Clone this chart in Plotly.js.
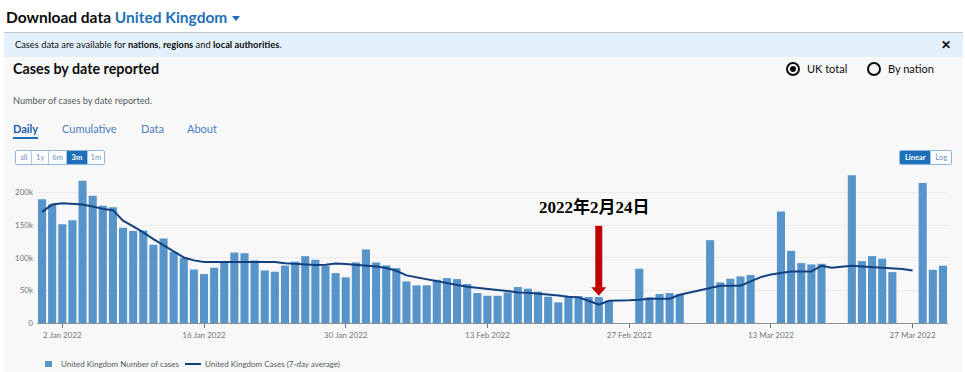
<!DOCTYPE html>
<html>
<head>
<meta charset="utf-8">
<script src="https://cdn.plot.ly/plotly-3.0.1.min.js"></script>
<style>
  body{margin:0;width:965px;height:372px;overflow:hidden;background:#fff;font-family:Lato,"Noto Sans",sans-serif;position:relative;color:#0b0c0c;}
  .abs{position:absolute;white-space:nowrap;}
  #card{left:4px;top:32px;width:959px;height:339px;background:#f8f8f8;border-top:1px solid #c4c6c8;}
  #info{left:4px;top:33px;width:959px;height:24px;background:#e2f1fb;}
  #hdr{left:6px;top:8px;font-size:15.5px;line-height:18px;font-weight:700;}
  #hdr span{color:#1d70b8;}
  #tri{left:232px;top:16px;width:0;height:0;border-left:4px solid transparent;border-right:4px solid transparent;border-top:5px solid #1d70b8;}
  #infotxt{left:15px;top:39px;font-size:9.3px;line-height:12px;color:#0b0c0c;}
  #close{left:941px;top:38px;font-size:12px;line-height:14px;font-weight:700;}
  #ttl{left:13px;top:61px;font-size:14.3px;line-height:16px;font-weight:700;}
  .radio{width:10px;height:10px;border:2px solid #0b0c0c;border-radius:50%;}
  .dot{width:6px;height:6px;background:#0b0c0c;border-radius:50%;}
  .rlab{font-size:11px;line-height:14px;top:62px;}
  #sub{left:13px;top:95px;font-size:9.2px;line-height:12px;color:#505a5f;}
  .tab{top:122px;font-size:11px;line-height:13px;color:#4a80c0;}
  #ul{left:13px;top:137px;width:25px;height:2px;background:#1d70b8;}
  .grp{top:150px;height:13px;border:1px solid #8fb7de;border-radius:2px;display:flex;background:#fff;overflow:hidden;}
  .grp div{font-size:7.5px;line-height:13px;text-align:center;color:#6f8fba;border-left:1px solid #a9c7e4;}
  .grp div:first-child{border-left:none;}
  .grp .sel{background:#1d70b8;color:#fff;font-weight:700;}
  .leg{top:358px;font-size:8px;line-height:12px;color:#505a5f;}
  #chart{position:absolute;left:0;top:0;width:965px;height:372px;}
</style>
</head>
<body>
<div class="abs" id="card"></div>
<div class="abs" id="info"></div>
<div class="abs" id="hdr">Download data <span>United Kingdom</span></div>
<div class="abs" id="tri"></div>
<div class="abs" id="infotxt">Cases data are available for <b>nations</b>, <b>regions</b> and <b>local authorities</b>.</div>
<div class="abs" id="close">✕</div>
<div class="abs" id="ttl">Cases by date reported</div>
<div class="abs radio" style="left:786px;top:62px;"></div>
<div class="abs dot" style="left:790px;top:66px;"></div>
<div class="abs rlab" style="left:807px;">UK total</div>
<div class="abs radio" style="left:867px;top:62px;"></div>
<div class="abs rlab" style="left:888px;">By nation</div>
<div class="abs" id="sub">Number of cases by date reported.</div>
<div class="abs tab" style="left:13px;color:#1d5fa8;font-weight:700;">Daily</div>
<div class="abs tab" style="left:62px;">Cumulative</div>
<div class="abs tab" style="left:141px;">Data</div>
<div class="abs tab" style="left:187px;">About</div>
<div class="abs" id="ul"></div>
<div class="abs grp" style="left:15px;width:88px;">
  <div style="width:16px">all</div><div style="width:16px">1y</div><div style="width:18px">6m</div><div class="sel" style="width:20px">3m</div><div style="width:17px">1m</div>
</div>
<div class="abs grp" style="left:899px;width:51px;">
  <div class="sel" style="width:31px">Linear</div><div style="width:20px">Log</div>
</div>
<div class="abs" id="legsq" style="left:45px;top:361px;width:7px;height:6px;"></div>
<div class="abs leg" id="leg1" style="left:61px;"></div>
<div class="abs" id="legln" style="left:185px;top:363px;width:16px;height:2px;"></div>
<div class="abs leg" id="leg2" style="left:205px;"></div>
<div id="chart"></div>
<script>
// ---- data ----
const startDate = '2021-12-31';
const cases = [
  189800,182000,151500,157600,218000,195000,179600,177600,146000,141000,
  142000,120000,129600,109000,99500,82000,75000,84700,94000,108000,
  107000,96000,80600,78600,88000,94000,102500,97000,87800,76500,
  70000,92900,112800,92900,88300,84200,63800,57700,57700,66300,
  68900,67300,59700,45900,41800,41800,46900,55100,52600,48000,
  40300,31600,40300,41300,39800,39800,34200,null,null,83200,
  39300,44400,45900,44400,null,null,127000,62200,67900,71400,
  73500,null,null,171000,110700,91800,89800,90800,null,null,
  226500,94900,102600,98500,78000,null,null,214800,81600,87800
];
const avg7 = [
  170400,181600,183700,182700,181600,178600,175000,173000,157000,148000,
  139000,128600,119400,110000,100500,96000,93400,93400,93400,93400,
  94000,94000,94000,93400,91800,90800,89800,88800,89300,91300,
  90300,89300,88300,86700,84200,80100,73000,70000,66300,63300,
  60700,58200,55600,53600,52000,50500,49000,46900,46400,45400,
  43900,42300,40300,39300,34200,28000,34200,34200,34700,35700,
  37200,37200,37200,43400,46900,50000,53600,57100,57100,57100,
  63800,70400,74500,77000,79100,79100,79100,87800,84700,86200,
  87800,86700,85700,85700,84200,82700,80600,null,null,null
];
const xTickVals = ['2022-01-02','2022-01-16','2022-01-30','2022-02-13','2022-02-27','2022-03-13','2022-03-27'];
const xTickText = ['2 Jan 2022','16 Jan 2022','30 Jan 2022','13 Feb 2022','27 Feb 2022','13 Mar 2022','27 Mar 2022'];
const yTickVals = [0,50000,100000,150000,200000];
const yTickText = ['0','50k','100k','150k','200k'];
const seriesNames = ['United Kingdom Number of cases','United Kingdom Cases (7-day average)'];
const markDate = '2022-02-24';
const markLabel = '2022年2月24日';

// ---- build ----
const BAR = '#5694ca', LINE = '#12407f';
const dates = cases.map((_, i) => {
  const d = new Date(startDate + 'T00:00:00Z');
  d.setUTCDate(d.getUTCDate() + i);
  return d.toISOString().slice(0, 10);
});
document.getElementById('legsq').style.background = BAR;
document.getElementById('legln').style.background = LINE;
document.getElementById('leg1').textContent = seriesNames[0];
document.getElementById('leg2').textContent = seriesNames[1];

const tickFont = {family:'Lato, Noto Sans, sans-serif', size:8, color:'#6f777b'};
const traces = [
  {type:'bar', x:dates, y:cases, name:seriesNames[0], marker:{color:BAR}, hoverinfo:'skip'},
  {type:'scatter', mode:'lines', x:dates, y:avg7, name:seriesNames[1], line:{color:LINE, width:2}, connectgaps:false, hoverinfo:'skip'}
];
const layout = {
  width:965, height:372,
  margin:{l:37, r:17, t:173, b:49},
  paper_bgcolor:'rgba(0,0,0,0)', plot_bgcolor:'rgba(0,0,0,0)',
  showlegend:false, bargap:0.2,
  xaxis:{type:'date', range:['2021-12-30 12:00','2022-03-30 12:00'], tickvals:xTickVals, ticktext:xTickText,
         ticks:'outside', ticklen:4, tickcolor:'#6f777b', showline:true, linecolor:'#8a8f93', linewidth:1,
         showgrid:false, zeroline:false, tickfont:tickFont},
  yaxis:{range:[0,230000], tickvals:yTickVals, ticktext:yTickText, showgrid:true, gridcolor:'#ebebeb',
         zeroline:false, showline:false, ticks:'', tickfont:tickFont, ticklabelstandoff:3},
  annotations:[{x:markDate, y:178000, xref:'x', yref:'y', text:'<b>'+markLabel+'</b>', showarrow:false, xshift:-4,
                font:{family:"'Liberation Serif', 'DejaVu Serif', 'Noto Sans CJK SC', serif", size:17, color:'#000'}}],
  shapes:[
    {type:'rect', xref:'x', yref:'y', xsizemode:'pixel', xanchor:markDate, x0:-3.5, x1:3.5, y0:54000, y1:149000,
     fillcolor:'#c00000', line:{width:0}},
    {type:'path', xref:'x', yref:'y', xsizemode:'pixel', ysizemode:'pixel', xanchor:markDate, yanchor:54000,
     path:'M-7.5,0.5 L7.5,0.5 L0,-8 Z', fillcolor:'#c00000', line:{width:0}}
  ]
};
Plotly.newPlot('chart', traces, layout, {staticPlot:true, displayModeBar:false});
</script>
</body>
</html>
